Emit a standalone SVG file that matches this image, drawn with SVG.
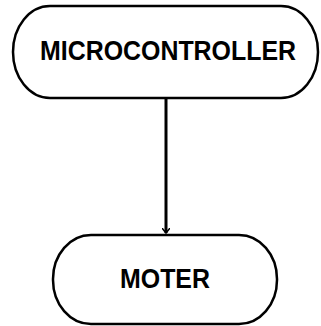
<svg xmlns="http://www.w3.org/2000/svg" width="321" height="326" viewBox="0 0 321 326">
<style>
.node{fill:#fff;stroke:#000;stroke-width:2.5}
.lbl{font-family:"Liberation Sans",Arial,sans-serif;font-size:27px;font-weight:bold;fill:#000;text-anchor:middle}
.edge{stroke:#000;stroke-width:3;fill:none}
</style>
<defs>
<marker id="ah" markerWidth="8" markerHeight="8" refX="5" refY="4" orient="auto" markerUnits="userSpaceOnUse">
<path d="M0,0 L5,4 L0,8" fill="none" stroke="#000" stroke-width="1.5"/>
</marker>
</defs>
<rect width="321" height="326" fill="#fff"/>
<g id="connectors">
<path class="edge" d="M166,98 L166,233" marker-end="url(#ah)"/>
</g>
<g id="microcontroller">
<rect class="node" x="13" y="6" width="305" height="92" rx="37" ry="46"/>
<text class="lbl" x="168" y="60" textLength="256" lengthAdjust="spacingAndGlyphs">MICROCONTROLLER</text>
</g>
<g id="moter">
<rect class="node" x="53" y="235" width="224" height="89" rx="38" ry="44"/>
<text class="lbl" x="165" y="288" textLength="90" lengthAdjust="spacingAndGlyphs">MOTER</text>
</g>
</svg>
